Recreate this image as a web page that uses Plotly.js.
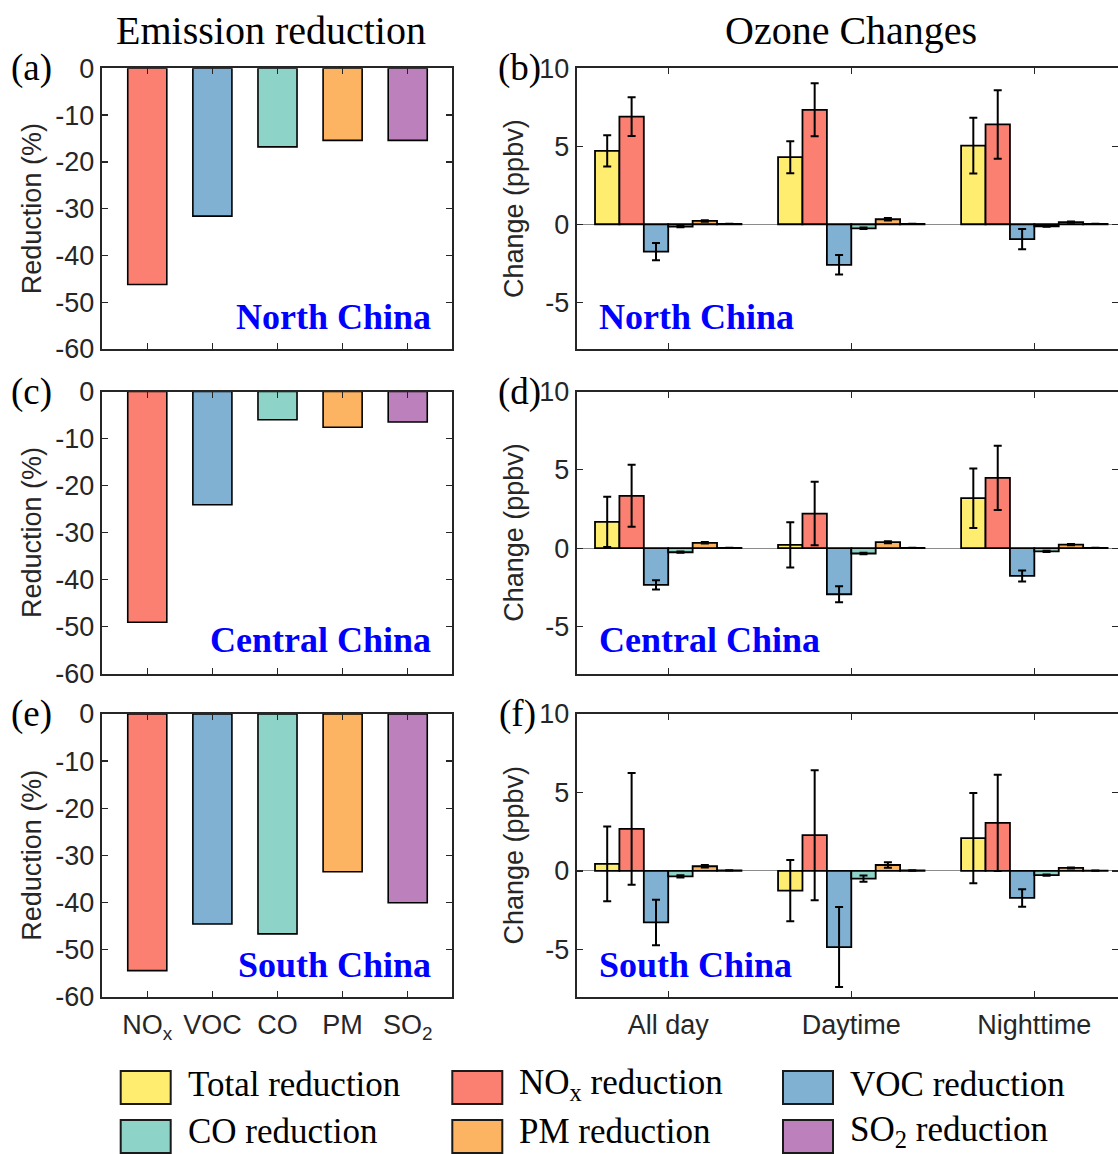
<!DOCTYPE html>
<html>
<head>
<meta charset="utf-8">
<script src="https://cdn.plot.ly/plotly-3.0.1.min.js"></script>
<style>html,body{margin:0;padding:0;background:#fff;}#chart{width:1118px;height:1154px;}</style>
</head>
<body>
<div id="chart"></div>
<script>
// ---------- DATA ----------
const emisCats = ['NO<sub>x</sub>', 'VOC', 'CO', 'PM', 'SO<sub>2</sub>'];
const emisNorth   = [-46.2, -31.6, -16.8, -15.4, -15.4];
const emisCentral = [-49.1, -24.1, -6.0, -7.6, -6.5];
const emisSouth   = [-54.5, -44.6, -46.7, -33.5, -40.1];

const periods = ['All day', 'Daytime', 'Nighttime'];
const seriesNames = ['Total reduction', 'NO<sub>x</sub> reduction', 'VOC reduction',
                     'CO reduction', 'PM reduction', 'SO<sub>2</sub> reduction'];
const seriesColors = ['#FFED6F', '#FB8072', '#80B1D3', '#8DD3C7', '#FDB462', '#BC80BD'];
const emisColors = ['#FB8072', '#80B1D3', '#8DD3C7', '#FDB462', '#BC80BD'];

// rows: Total, NOx, VOC, CO, PM, SO2 ; columns: All day, Daytime, Nighttime
const northChange = [[4.70, 4.30, 5.04], [6.90, 7.34, 6.40], [-1.76, -2.60, -0.96],
                     [-0.15, -0.26, -0.13], [0.21, 0.32, 0.13], [0.02, 0.02, 0.02]];
const northErr    = [[1.00, 1.03, 1.79], [1.24, 1.70, 2.20], [0.55, 0.62, 0.65],
                     [0.04, 0.05, 0.03], [0.05, 0.08, 0.04], [0.01, 0.01, 0.01]];
const centralChange = [[1.68, 0.21, 3.19], [3.34, 2.21, 4.49], [-2.34, -2.94, -1.77],
                       [-0.26, -0.34, -0.21], [0.34, 0.38, 0.23], [0.02, 0.02, 0.02]];
const centralErr    = [[1.60, 1.45, 1.90], [1.98, 2.03, 2.05], [0.30, 0.51, 0.35],
                       [0.04, 0.05, 0.04], [0.05, 0.06, 0.04], [0.01, 0.01, 0.01]];
const southChange = [[0.45, -1.26, 2.09], [2.68, 2.28, 3.06], [-3.28, -4.85, -1.72],
                     [-0.34, -0.49, -0.26], [0.30, 0.38, 0.19], [0.04, 0.03, 0.02]];
const southErr    = [[2.38, 1.95, 2.87], [3.56, 4.14, 3.07], [1.45, 2.55, 0.56],
                     [0.07, 0.20, 0.04], [0.08, 0.17, 0.03], [0.01, 0.01, 0.01]];

const regionNames = ['North China', 'Central China', 'South China'];
const leftTickVals = [-60, -50, -40, -30, -20, -10, 0];
const leftTickText = ['-60', '-50', '-40', '-30', '-20', '-10', '0'];
const rightTickVals = [-5, 0, 5, 10];
const rightTickText = ['-5', '0', '5', '10'];

// ---------- LAYOUT HELPERS ----------
const W = 1118, H = 1154;
const px = x => x / W;
const py = y => 1 - y / H;
const ARIAL = 'Arial, "Liberation Sans", Helvetica, sans-serif';
const TIMES = '"Times New Roman", "Liberation Serif", Times, serif';
const AX = '#262626';

const rowsPx = [[68.3, 349], [391.5, 673.5], [714, 996.5]];
const leftDom = [px(101.7), px(452)];
const rightDom = [px(576.7), 1];

const traces = [];
const emisData = [emisNorth, emisCentral, emisSouth];
const chData = [northChange, centralChange, southChange];
const errData = [northErr, centralErr, southErr];

const layout = {
  width: W, height: H,
  margin: {l: 0, r: 0, t: 0, b: 0},
  paper_bgcolor: '#fff', plot_bgcolor: '#fff',
  showlegend: false,
  barmode: 'group', bargap: 0.2, bargroupgap: 0,
  font: {family: ARIAL, color: AX, size: 27},
  annotations: [], shapes: []
};

for (let r = 0; r < 3; r++) {
  const li = 2 * r + 1, ri = 2 * r + 2;
  const xl = 'x' + (li === 1 ? '' : li), yl = 'y' + (li === 1 ? '' : li);
  const xr = 'x' + ri, yr = 'y' + ri;
  const yDom = [py(rowsPx[r][1]), py(rowsPx[r][0])];

  traces.push({
    type: 'bar', x: emisCats, y: emisData[r], xaxis: xl, yaxis: yl,
    width: 0.6,
    marker: {color: emisColors, line: {color: '#000', width: 1.6}},
    hoverinfo: 'x+y'
  });

  for (let s = 0; s < 6; s++) {
    traces.push({
      type: 'bar', name: seriesNames[s], x: periods, y: chData[r][s],
      xaxis: xr, yaxis: yr, offsetgroup: String(s),
      marker: {color: seriesColors[s], line: {color: '#000', width: 1.8}},
      error_y: {type: 'data', array: errData[r][s], visible: true,
                color: '#000', thickness: 2, width: 4}
    });
  }

  const base = {
    showline: true, linecolor: AX, linewidth: 2, mirror: 'ticks',
    ticks: 'inside', ticklen: 6, tickwidth: 1.3, tickcolor: AX,
    showgrid: false, fixedrange: true,
    tickfont: {family: ARIAL, size: 27, color: AX}
  };
  const kxl = 'xaxis' + (li === 1 ? '' : li), kyl = 'yaxis' + (li === 1 ? '' : li);
  layout[kxl] = Object.assign({}, base, {
    domain: leftDom, anchor: yl, type: 'category', range: [-0.7, 4.68],
    showticklabels: r === 2, zeroline: false, ticklabelstandoff: 3
  });
  layout[kyl] = Object.assign({}, base, {
    domain: yDom, anchor: xl, range: [-60, 0],
    tickvals: leftTickVals, ticktext: leftTickText, zeroline: false,
    title: {text: 'Reduction (%)', font: {family: ARIAL, size: 27, color: AX}, standoff: 6}
  });
  layout['xaxis' + ri] = Object.assign({}, base, {
    domain: rightDom, anchor: yr, type: 'category', range: [-0.5, 2.457],
    showticklabels: r === 2, zeroline: false, ticklabelstandoff: 3
  });
  layout['yaxis' + ri] = Object.assign({}, base, {
    domain: yDom, anchor: xr, range: [-8, 10],
    tickvals: rightTickVals, ticktext: rightTickText,
    zeroline: true, zerolinecolor: '#8c8c8c', zerolinewidth: 1,
    title: {text: 'Change (ppbv)', font: {family: ARIAL, size: 27, color: AX}, standoff: 8}
  });

  const labelY = [317, 640, 965][r];
  layout.annotations.push({
    xref: 'paper', yref: 'paper', x: px(433), y: py(labelY), xanchor: 'right', yanchor: 'middle',
    text: '<b>' + regionNames[r] + '</b>', showarrow: false,
    font: {family: TIMES, size: 36, color: '#0000FF'}
  });
  layout.annotations.push({
    xref: 'paper', yref: 'paper', x: px(597), y: py(labelY), xanchor: 'left', yanchor: 'middle',
    text: '<b>' + regionNames[r] + '</b>', showarrow: false,
    font: {family: TIMES, size: 36, color: '#0000FF'}
  });
}

// column titles
layout.annotations.push({xref: 'paper', yref: 'paper', x: px(271), y: py(30), xanchor: 'center', yanchor: 'middle',
  text: 'Emission reduction', showarrow: false, font: {family: TIMES, size: 40, color: '#000'}});
layout.annotations.push({xref: 'paper', yref: 'paper', x: px(851), y: py(30), xanchor: 'center', yanchor: 'middle',
  text: 'Ozone Changes', showarrow: false, font: {family: TIMES, size: 40, color: '#000'}});

// panel letters
const letters = [['(a)', 31, 68], ['(b)', 519, 68], ['(c)', 31, 392], ['(d)', 519, 392], ['(e)', 31, 714], ['(f)', 517, 714]];
letters.forEach(l => layout.annotations.push({xref: 'paper', yref: 'paper', x: px(l[1]), y: py(l[2]),
  xanchor: 'center', yanchor: 'middle', text: l[0], showarrow: false,
  font: {family: TIMES, size: 37, color: '#000'}}));

// legend (manual, 3 columns x 2 rows)
const legCols = [120.7, 452.3, 783];
const legRows = [[1071, 1104], [1120, 1153]];
const legTextY = [1084, 1131];
for (let s = 0; s < 6; s++) {
  const c = s % 3, rr = Math.floor(s / 3);
  layout.shapes.push({type: 'rect', xref: 'paper', yref: 'paper',
    x0: px(legCols[c]), x1: px(legCols[c] + 50), y0: py(legRows[rr][1]), y1: py(legRows[rr][0]),
    fillcolor: seriesColors[s], line: {color: '#1a1a1a', width: 2}});
  layout.annotations.push({xref: 'paper', yref: 'paper', x: px(legCols[c] + 65),
    y: py(legTextY[rr]), xanchor: 'left', yanchor: 'middle',
    text: seriesNames[s], showarrow: false, font: {family: TIMES, size: 35, color: '#000'}});
}

Plotly.newPlot('chart', traces, layout, {displayModeBar: false, staticPlot: true});
</script>
</body>
</html>
